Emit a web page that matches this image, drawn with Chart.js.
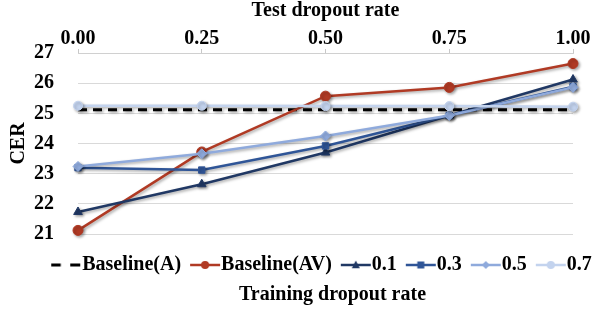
<!DOCTYPE html>
<html>
<head>
<meta charset="utf-8">
<script src="https://cdn.jsdelivr.net/npm/chart.js@4"></script>
<style>
html,body{margin:0;padding:0;background:#fff;}
#wrap{width:603px;height:309px;position:relative;}
</style>
</head>
<body>
<div id="wrap"><canvas id="c" width="603" height="309"></canvas></div>
<script>
const testRates = [0.00, 0.25, 0.50, 0.75, 1.00];
const xTicks = ['0.00', '0.25', '0.50', '0.75', '1.00'];
const yTicks = [21, 22, 23, 24, 25, 26, 27];
const seriesNames = ['Baseline(A)', 'Baseline(AV)', '0.1', '0.3', '0.5', '0.7'];
const baselineA  = [25.12, 25.12, 25.12, 25.12, 25.12];
const baselineAV = [21.12, 23.72, 25.57, 25.86, 26.65];
const drop01 = [21.73, 22.65, 23.70, 24.93, 26.12];
const drop03 = [23.20, 23.12, 23.92, 24.93, 25.88];
const drop05 = [23.24, 23.66, 24.25, 24.93, 25.86];
const drop07 = [25.25, 25.25, 25.24, 25.24, 25.22];

const FONT = '"Liberation Serif", "Times New Roman", serif';
const colors = ['#000000', '#B03A24', '#203864', '#2F5597', '#8FAADC', '#C3D3EE'];
const styles = [false, 'circle', 'triangle', 'rect', 'rectRot', 'circle'];
const values = [baselineA, baselineAV, drop01, drop03, drop05, drop07];

function pts(arr){ return arr.map((v,i)=>({x:testRates[i], y:v})); }

const datasets = values.map((v,i)=>({
  label: seriesNames[i],
  data: pts(v),
  borderColor: colors[i],
  backgroundColor: colors[i],
  borderWidth: i===0 ? 3 : 2.5,
  borderDash: i===0 ? [9,6] : [],
  pointStyle: styles[i],
  pointRadius: i===0 ? 0 : (styles[i]==='rect' ? 4.5 : (i===5 ? 4.5 : 5)),
  pointBorderWidth: 1,
  pointHoverRadius: 0,
  tension: 0,
  clip: false,
  order: 6 - i
}));

const LEG_FONT = 20;
const LEG_BOX = 21;
function legendIcon(i){
  const cv = document.createElement('canvas');
  const W = LEG_BOX + LEG_FONT, H = 14;
  cv.width = W; cv.height = H;
  const g = cv.getContext('2d');
  g.strokeStyle = colors[i];
  g.fillStyle = colors[i];
  const x0 = LEG_FONT/2, x1 = W - 1, cy = 7;
  if(i===0){
    g.fillRect(x0, cy-1.5, 9.5, 3);
    g.fillRect(x0+19, cy-1.5, 10, 3);
  } else {
    g.lineWidth = 2.5;
    g.beginPath(); g.moveTo(x0, cy); g.lineTo(x1, cy); g.stroke();
    const cx = (x0 + x1)/2, r = 4;
    g.beginPath();
    if(styles[i]==='circle'){ g.arc(cx, cy, r, 0, Math.PI*2); }
    else if(styles[i]==='triangle'){ g.moveTo(cx, cy-r-0.5); g.lineTo(cx+r, cy+r*0.8); g.lineTo(cx-r, cy+r*0.8); g.closePath(); }
    else if(styles[i]==='rect'){ g.rect(cx-3.5, cy-3.5, 7, 7); }
    else if(styles[i]==='rectRot'){ g.moveTo(cx, cy-r); g.lineTo(cx+r, cy); g.lineTo(cx, cy+r); g.lineTo(cx-r, cy); g.closePath(); }
    g.fill();
  }
  return cv;
}
const icons = seriesNames.map((_,i)=>legendIcon(i));

const shadowPlugin = {
  id: 'shadow',
  beforeDatasetsDraw(chart){
    const ctx = chart.ctx;
    ctx.save();
    ctx.shadowColor = 'rgba(0,0,0,0.35)';
    ctx.shadowBlur = 3;
    ctx.shadowOffsetX = 1.5;
    ctx.shadowOffsetY = 1.5;
  },
  afterDatasetsDraw(chart){
    chart.ctx.restore();
  }
};

// centre the bottom legend and title under the plot area (as in the reference)
const centerPlugin = {
  id: 'centerBottom',
  afterLayout(chart){
    const ca = chart.chartArea;
    const mid = (ca.left + ca.right)/2;
    const lg = chart.legend;
    if(lg){
      const d = mid - (lg.left + lg.right)/2 - 4;
      lg.left += d; lg.right += d;
    }
    const tt = chart.titleBlock;
    if(tt){
      const d2 = mid - (tt.left + tt.right)/2 + 7;
      tt.left += d2; tt.right += d2;
    }
  }
};

new Chart(document.getElementById('c'), {
  type: 'line',
  data: { datasets },
  plugins: [shadowPlugin, centerPlugin],
  options: {
    responsive: false,
    animation: false,
    events: [],
    layout: { padding: { left: 0, right: 30, top: 0, bottom: 4 } },
    scales: {
      x: {
        type: 'linear',
        position: 'top',
        min: 0, max: 1,
        afterBuildTicks(scale){ scale.ticks = testRates.map(v=>({value:v})); },
        afterFit(scale){ scale.height = 53; },
        ticks: {
          callback: (v, idx) => xTicks[idx],
          font: { family: FONT, size: 20, weight: 'bold' },
          color: '#000',
          padding: -2,
          maxRotation: 0
        },
        grid: { drawOnChartArea: false, drawTicks: true, tickLength: 4, color: '#c8c8c8' },
        border: { display: true, color: '#d0d0d0' },
        title: {
          display: true,
          text: 'Test dropout rate',
          font: { family: FONT, size: 20, weight: 'bold', lineHeight: 1 },
          color: '#000',
          padding: { top: 1, bottom: 0 }
        }
      },
      y: {
        type: 'linear',
        min: 21, max: 27,
        afterBuildTicks(scale){ scale.ticks = yTicks.map(v=>({value:v})); },
        afterFit(scale){ scale.width = 78; },
        ticks: {
          font: { family: FONT, size: 20, weight: 'bold' },
          color: '#000',
          padding: 24
        },
        grid: { color: '#d9d9d9', drawTicks: false, lineWidth: 1 },
        border: { display: false },
        title: {
          display: true,
          text: 'CER',
          font: { family: FONT, size: 20, weight: 'bold' },
          color: '#000',
          padding: { top: 7, bottom: 0 }
        }
      }
    },
    plugins: {
      tooltip: { enabled: false },
      legend: {
        position: 'bottom',
        align: 'center',
        title: { display: true, text: '', font: { size: 5, lineHeight: 1 }, padding: { top: 7, bottom: 0 } },
        labels: {
          usePointStyle: true,
          pointStyleWidth: LEG_BOX,
          boxHeight: 14,
          padding: 9,
          color: '#000',
          font: { family: FONT, size: LEG_FONT, weight: 'bold' },
          generateLabels(chart){
            return seriesNames.map((n,i)=>({
              text: n,
              fontColor: '#000',
              pointStyle: icons[i],
              fillStyle: colors[i],
              strokeStyle: colors[i],
              lineWidth: 0,
              hidden: false,
              datasetIndex: i
            }));
          }
        }
      },
      title: {
        display: true,
        position: 'bottom',
        text: 'Training dropout rate',
        color: '#000',
        font: { family: FONT, size: 20, weight: 'bold', lineHeight: 1 },
        padding: { top: 0, bottom: 0 }
      }
    }
  }
});
</script>
</body>
</html>
